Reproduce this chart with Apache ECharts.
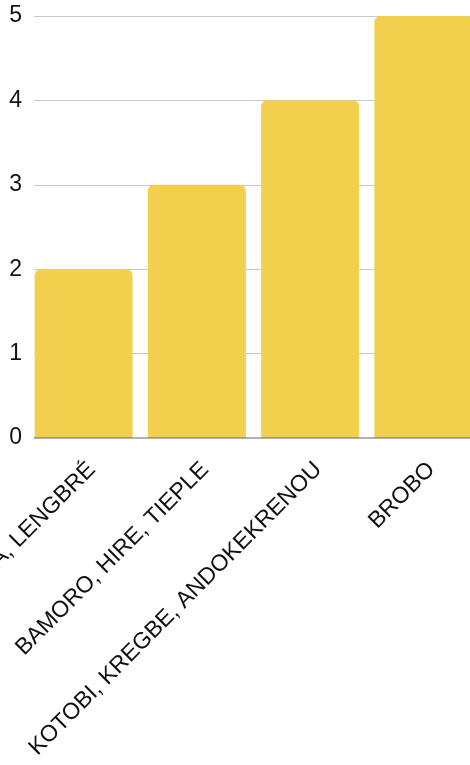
<!DOCTYPE html>
<html><head><meta charset="utf-8">
<script src="https://cdn.jsdelivr.net/npm/echarts@6/dist/echarts.min.js"></script>
<style>html,body{margin:0;padding:0;background:#fff}#c{width:470px;height:765px}</style>
</head><body><div id="c"></div>
<script>
var categories = ["KOUASSIKRO, ANDA, LENGBRÉ", "BAMORO, HIRE, TIEPLE", "KOTOBI, KREGBE, ANDOKEKRENOU", "BROBO"];
var values = [2, 3, 4, 5];
var yTicks = [0, 1, 2, 3, 4, 5];

var yMin = yTicks[0], yMax = yTicks[yTicks.length - 1];
var chart = echarts.init(document.getElementById('c'));
chart.setOption({
  animation: false,
  grid: [
    {left: 34, right: 0, top: 16, bottom: 327, containLabel: false, outerBoundsMode: 'none'},
    {left: 27, width: 453, top: 16, bottom: 327, containLabel: false, outerBoundsMode: 'none'}
  ],
  xAxis: [
    {gridIndex: 0, type: 'value', min: 0, max: 1, axisLabel: {show: false}, axisTick: {show: false}, splitLine: {show: false}, axisLine: {show: false}},
    {
      gridIndex: 1, type: 'category', data: categories,
      axisLine: {show: false},
      axisTick: {show: false},
      axisLabel: {rotate: 45, interval: 0, color: '#111', fontFamily: 'Liberation Sans, Arial', fontSize: 23, margin: 20, verticalAlign: 'top'}
    }
  ],
  yAxis: [
    {
      gridIndex: 0, type: 'value', min: yMin, max: yMax, interval: 1,
      axisLine: {show: false}, axisTick: {show: false}, axisLabel: {show: false},
      splitLine: {lineStyle: {color: '#c8c8c8', width: 1}}
    },
    {
      gridIndex: 1, type: 'value', min: yMin, max: yMax, interval: 1,
      axisLine: {show: false}, axisTick: {show: false}, splitLine: {show: false},
      axisLabel: {color: '#111', fontFamily: 'Liberation Sans, Arial', fontSize: 23, margin: 5}
    }
  ],
  series: [
    {
      type: 'line', xAxisIndex: 0, yAxisIndex: 0, data: [[0, yMin], [1, yMin]],
      symbol: 'none', silent: true, lineStyle: {color: '#666', width: 1}, z: 3
    },
    {
      type: 'bar', xAxisIndex: 1, yAxisIndex: 1, data: values, barCategoryGap: '13.5%',
      itemStyle: {color: '#F2D04E', borderRadius: [6, 6, 0, 0]}, z: 2
    }
  ]
});
</script></body></html>
